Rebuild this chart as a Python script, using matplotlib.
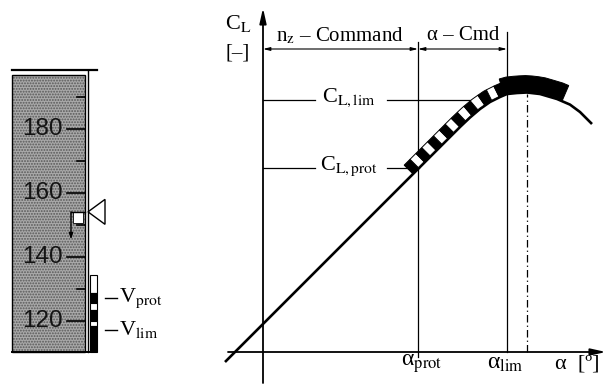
import numpy as np
import matplotlib.pyplot as plt
from matplotlib.patches import Polygon, Rectangle

plt.rcParams["font.family"] = ["Liberation Serif", "DejaVu Serif"]
plt.rcParams["mathtext.fontset"] = "stix"
plt.rcParams["hatch.linewidth"] = 0.9

# ============================================================
# DATA
# ============================================================

# speed tape, knots
TAPE_TOP = 196.9
TAPE_LINE = 198.4
TAPE_BOTTOM = 110.3
TICKS_MAJOR = [180, 160, 140, 120]
TICKS_MINOR = [190, 170, 150, 130]
SPEED_NOW = 154.1
SPEED_TREND = 145.5
BAND_TOP = [134.4, 128.75, 125.6, 123.4, 120.0, 118.4]
BAND_BOTTOM = [128.75, 125.6, 123.4, 120.0, 118.4, 110.3]
BAND_FILL = ["white", "black", "white", "black", "white", "black"]
V_PROT = 127.2
V_LIM = 117.3

# lift curve C_L(alpha)
ALPHA = [-3.8, 15.5, 19.7, 20.7, 21.7, 22.7, 23.7, 24.4, 25.4, 26.4,
         27.7, 29.4, 30.7, 31.7, 32.9]
CL = [-0.05, 0.915, 1.125, 1.1725, 1.215, 1.25, 1.275, 1.29, 1.295, 1.2975,
      1.29, 1.265, 1.237, 1.20, 1.14]
ALPHA_PROT = 15.5
ALPHA_LIM = 24.4
ALPHA_MAX = 26.4
CL_PROT = 0.92
CL_LIM = 1.26
CMD_LEVEL = 1.515


# ============================================================
# HELPERS
# ============================================================

def band_along_curve(axis, a_start, a_end, thickness, seg_len=None, colors=("black",)):
    """Patches sitting on top of the lift curve, built in pixel space."""
    pts = axis.transData.transform(np.column_stack([ALPHA, CL]))
    dist = np.r_[0, np.cumsum(np.hypot(*np.diff(pts, axis=0).T))]
    s0 = np.interp(a_start, ALPHA, dist)
    s1 = np.interp(a_end, ALPHA, dist)

    if seg_len is None:
        edges = np.array([s0, s1])
    else:
        n = max(1, int(round((s1 - s0) / seg_len)))
        edges = np.linspace(s0, s1, n + 1)

    inv = axis.transData.inverted()
    for i in range(len(edges) - 1):
        s = np.linspace(edges[i], edges[i + 1], 12)
        x = np.interp(s, dist, pts[:, 0])
        y = np.interp(s, dist, pts[:, 1])
        tx, ty = np.gradient(x), np.gradient(y)
        norm = np.hypot(tx, ty)
        nx, ny = -ty / norm, tx / norm
        base = np.column_stack([x + nx * 0.8, y + ny * 0.8])
        top = np.column_stack([x + nx * thickness, y + ny * thickness])
        poly = inv.transform(np.vstack([base, top[::-1]]))
        axis.add_patch(Polygon(poly, closed=True,
                               facecolor=colors[i % len(colors)],
                               edgecolor="black", linewidth=0.7, zorder=4))


# ============================================================
# FIGURE
# ============================================================

fig = plt.figure(figsize=(6.07, 3.88), dpi=100)

# ---------------- speed tape ----------------
tape = fig.add_axes([0, 0, 220 / 607, 1])
tape.set_xlim(0, 220)
tape.set_ylim(99.06, 220.3)
tape.axis("off")

tape.add_patch(Rectangle((12, TAPE_BOTTOM), 73, TAPE_TOP - TAPE_BOTTOM,
                         facecolor="#a9a9a9", edgecolor="#585858",
                         hatch="......", linewidth=0))
tape.add_patch(Rectangle((12, TAPE_BOTTOM), 73, TAPE_TOP - TAPE_BOTTOM,
                         facecolor="none", edgecolor="black", linewidth=1.0))
tape.plot([12, 97], [TAPE_LINE, TAPE_LINE], color="black", lw=1.6)
tape.plot([88, 88], [TAPE_LINE, TAPE_BOTTOM], color="black", lw=1.0)
tape.plot([12, 90], [TAPE_BOTTOM, TAPE_BOTTOM], color="black", lw=1.4)

for v in TICKS_MAJOR:
    tape.plot([67, 85], [v, v], color="black", lw=1.2)
    tape.text(42, v, str(v), ha="center", va="center", fontsize=17.5,
              family=["Liberation Sans"], color="#141414")
for v in TICKS_MINOR:
    tape.plot([77, 85], [v, v], color="black", lw=1.2)

# speed trend vector
tape.plot([71, 85], [SPEED_NOW, SPEED_NOW], color="black", lw=1.0)
tape.add_patch(Rectangle((73, SPEED_NOW - 3.5), 10, 3.5, facecolor="white",
                         edgecolor="black", linewidth=0.6))
tape.annotate("", xy=(71, SPEED_TREND), xytext=(71, SPEED_NOW),
              arrowprops=dict(arrowstyle="-|>,head_length=0.35,head_width=0.12",
                              color="black", lw=1.0, shrinkA=0, shrinkB=0))

# current speed pointer
tape.add_patch(Polygon([(88, SPEED_NOW), (105, SPEED_NOW + 3.9), (105, SPEED_NOW - 3.9)],
                       closed=True, facecolor="white", edgecolor="black", linewidth=1.0))

# low speed band
for top, bottom, color in zip(BAND_TOP, BAND_BOTTOM, BAND_FILL):
    tape.add_patch(Rectangle((90, bottom), 7, top - bottom, facecolor=color,
                             edgecolor="black", linewidth=0.8))

for v, label in [(V_PROT, r"V$_{\mathrm{prot}}$"), (V_LIM, r"V$_{\mathrm{lim}}$")]:
    tape.plot([105, 117], [v, v], color="black", lw=1.0)
    tape.text(119, v, label, ha="left", va="center", fontsize=16)

# ---------------- lift curve ----------------
ax = fig.add_axes([220 / 607, 0, 387 / 607, 1])
ax.set_xlim(-4.3, 34.4)
ax.set_ylim(-0.18, 1.76)
ax.axis("off")

# axes with arrows
ax.annotate("", xy=(0, 1.72), xytext=(0, -0.155),
            arrowprops=dict(arrowstyle="-|>,head_length=0.9,head_width=0.2",
                            color="black", lw=1.3, shrinkA=0, shrinkB=0))
ax.annotate("", xy=(34.3, 0), xytext=(-3.5, 0),
            arrowprops=dict(arrowstyle="-|>,head_length=0.9,head_width=0.2",
                            color="black", lw=1.3, shrinkA=0, shrinkB=0))

# reference lines
ax.plot([ALPHA_PROT, ALPHA_PROT], [-0.025, 1.55], color="black", lw=0.9)
ax.plot([ALPHA_LIM, ALPHA_LIM], [0, 1.6], color="black", lw=0.9)
ax.plot([ALPHA_MAX, ALPHA_MAX], [0, 1.29], color="black", lw=0.9,
        linestyle=(0, (6, 2.5, 1, 2.5)))

for level, label in [(CL_LIM, r"C$_{\mathrm{L,lim}}$"), (CL_PROT, r"C$_{\mathrm{L,prot}}$")]:
    right_end = np.interp(level, CL[:8], ALPHA[:8])
    if level == CL_LIM:
        right_end -= 0.3
    ax.plot([0, 5.2], [level, level], color="black", lw=0.9)
    ax.plot([12.4, right_end], [level, level], color="black", lw=0.9)
    ax.text(8.6, level + 0.01, label, ha="center", va="center", fontsize=16)

# command regions
dim = dict(arrowstyle="<|-|>,head_length=0.4,head_width=0.1",
           color="black", lw=0.8, shrinkA=0, shrinkB=0)
ax.annotate("", xy=(0, CMD_LEVEL), xytext=(ALPHA_PROT, CMD_LEVEL), arrowprops=dim)
ax.annotate("", xy=(ALPHA_PROT, CMD_LEVEL), xytext=(ALPHA_LIM, CMD_LEVEL), arrowprops=dim)
ax.text(7.7, 1.58, r"n$_{\mathrm{z}}$ – Command", ha="center", va="center", fontsize=15)
ax.text(20.0, 1.58, "α – Cmd", ha="center", va="center", fontsize=15)

# curve and protection bands
ax.plot(ALPHA, CL, color="black", lw=1.9, solid_capstyle="butt", zorder=3)
band_along_curve(ax, ALPHA_PROT - 0.5, ALPHA_LIM, 12.5, seg_len=8.5,
                 colors=("black", "white"))
band_along_curve(ax, ALPHA_LIM - 0.3, 29.9, 17, colors=("black",))

# axis labels
ax.text(-2.5, 1.64, r"C$_{\mathrm{L}}$", ha="center", va="center", fontsize=16)
ax.text(-2.5, 1.495, "[–]", ha="center", va="center", fontsize=15)
ax.text(ALPHA_PROT + 0.4, -0.06, r"α$_{\mathrm{prot}}$", ha="center", va="center", fontsize=17)
ax.text(ALPHA_LIM - 0.2, -0.06, r"α$_{\mathrm{lim}}$", ha="center", va="center", fontsize=17)
ax.text(31.4, -0.06, "α  [º]", ha="center", va="center", fontsize=16)

fig.savefig("out.png", dpi=100)
